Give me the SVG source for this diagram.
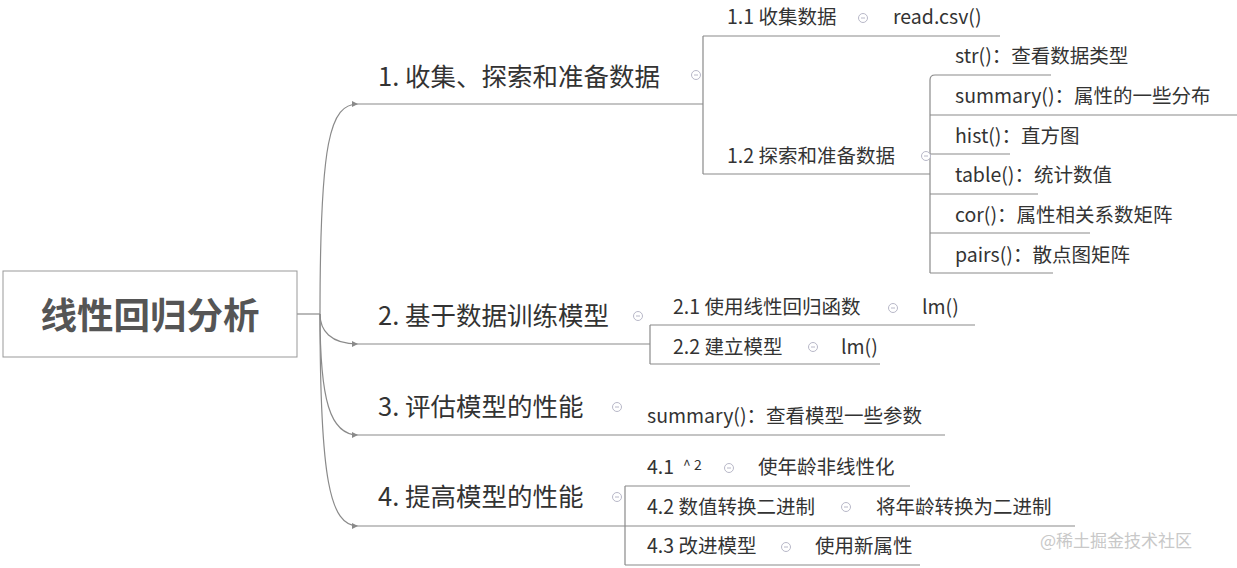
<svg xmlns="http://www.w3.org/2000/svg" width="1237" height="568" viewBox="0 0 1237 568">
<style>
text{font-family:"Microsoft YaHei","Noto Sans CJK SC","Liberation Sans",sans-serif;fill:#333}
.b{font-size:25.5px}.s{font-size:19.5px}
.l{stroke:#8a8a8a;stroke-width:1.2;fill:none}
.c{stroke:#b8b8c8;stroke-width:1;fill:#fff}
</style>
<defs>
<marker id="a" markerWidth="8" markerHeight="8" refX="6" refY="3" orient="auto" markerUnits="userSpaceOnUse"><path d="M0,0L6,3L0,6Z" fill="#8a8a8a"/></marker>
<g id="m"><circle class="c" r="4.5"/><path d="M-2,0H2" stroke="#b8b8c8"/></g>
</defs>
<rect width="1237" height="568" fill="#fff"/>
<g id="connectors" class="l">
<path d="M297,314H320"/>
<path d="M320,314C320,140 330,104 358,104" marker-end="url(#a)"/>
<path d="M320,314C320,330 330,344 358,344" marker-end="url(#a)"/>
<path d="M320,314C320,400 330,435 358,435" marker-end="url(#a)"/>
<path d="M320,314C320,480 330,526 358,526" marker-end="url(#a)"/>
<path d="M358,104H703M703,36V174M703,36H1000M703,174H930"/>
<path d="M930,273V80Q930,75 935,75H1051M930,115H1237M930,154H1010M930,194H1038M930,233H1090M930,273H1053"/>
<path d="M358,344H650M650,325V364M650,325H975M650,364H880"/>
<path d="M358,435H945"/>
<path d="M358,526H1075M625,486V565M625,486H910M625,565H920"/>
</g>
<g id="root"><rect x="3" y="271" width="294" height="86" fill="#fff" stroke="#999"/><text x="150" y="329" text-anchor="middle" font-size="36.5" font-weight="bold" style="fill:#555">线性回归分析</text></g>
<g id="n1"><text class="b" x="378" y="86">1. 收集、探索和准备数据</text><use href="#m" x="696" y="75"/></g>
<g id="n11"><text class="s" x="727" y="24">1.1 收集数据</text><use href="#m" x="863" y="18"/><text class="s" x="893" y="24">read.csv()</text></g>
<g id="n12"><text class="s" x="727" y="163">1.2 探索和准备数据</text><use href="#m" x="926" y="156"/></g>
<g id="n121"><text class="s" x="955" y="63">str()：查看数据类型</text></g>
<g id="n122"><text class="s" x="955" y="103">summary()：属性的一些分布</text></g>
<g id="n123"><text class="s" x="955" y="143">hist()：直方图</text></g>
<g id="n124"><text class="s" x="955" y="182">table()：统计数值</text></g>
<g id="n125"><text class="s" x="955" y="222">cor()：属性相关系数矩阵</text></g>
<g id="n126"><text class="s" x="955" y="262">pairs()：散点图矩阵</text></g>
<g id="n2"><text class="b" x="378" y="325">2. 基于数据训练模型</text><use href="#m" x="638" y="316"/></g>
<g id="n21"><text class="s" x="673" y="314">2.1 使用线性回归函数</text><use href="#m" x="893" y="308"/><text class="s" x="922" y="314">lm()</text></g>
<g id="n22"><text class="s" x="673" y="354">2.2 建立模型</text><use href="#m" x="813" y="347"/><text class="s" x="841" y="354">lm()</text></g>
<g id="n3"><text class="b" x="378" y="416">3. 评估模型的性能</text><use href="#m" x="617" y="407"/></g>
<g id="n31"><text class="s" x="647" y="423">summary()：查看模型一些参数</text></g>
<g id="n4"><text class="b" x="378" y="506">4. 提高模型的性能</text><use href="#m" x="617" y="497"/></g>
<g id="n41"><text class="s" x="647" y="474">4.1</text><text x="683" y="470" font-size="14">^ 2</text><use href="#m" x="729" y="468"/><text class="s" x="758" y="474">使年龄非线性化</text></g>
<g id="n42"><text class="s" x="647" y="514">4.2 数值转换二进制</text><use href="#m" x="846" y="507"/><text class="s" x="876" y="514">将年龄转换为二进制</text></g>
<g id="n43"><text class="s" x="647" y="553">4.3 改进模型</text><use href="#m" x="786" y="547"/><text class="s" x="815" y="553">使用新属性</text></g>
<text x="1040" y="547" font-size="17" style="fill:#c8c8c8">@稀土掘金技术社区</text>
</svg>
